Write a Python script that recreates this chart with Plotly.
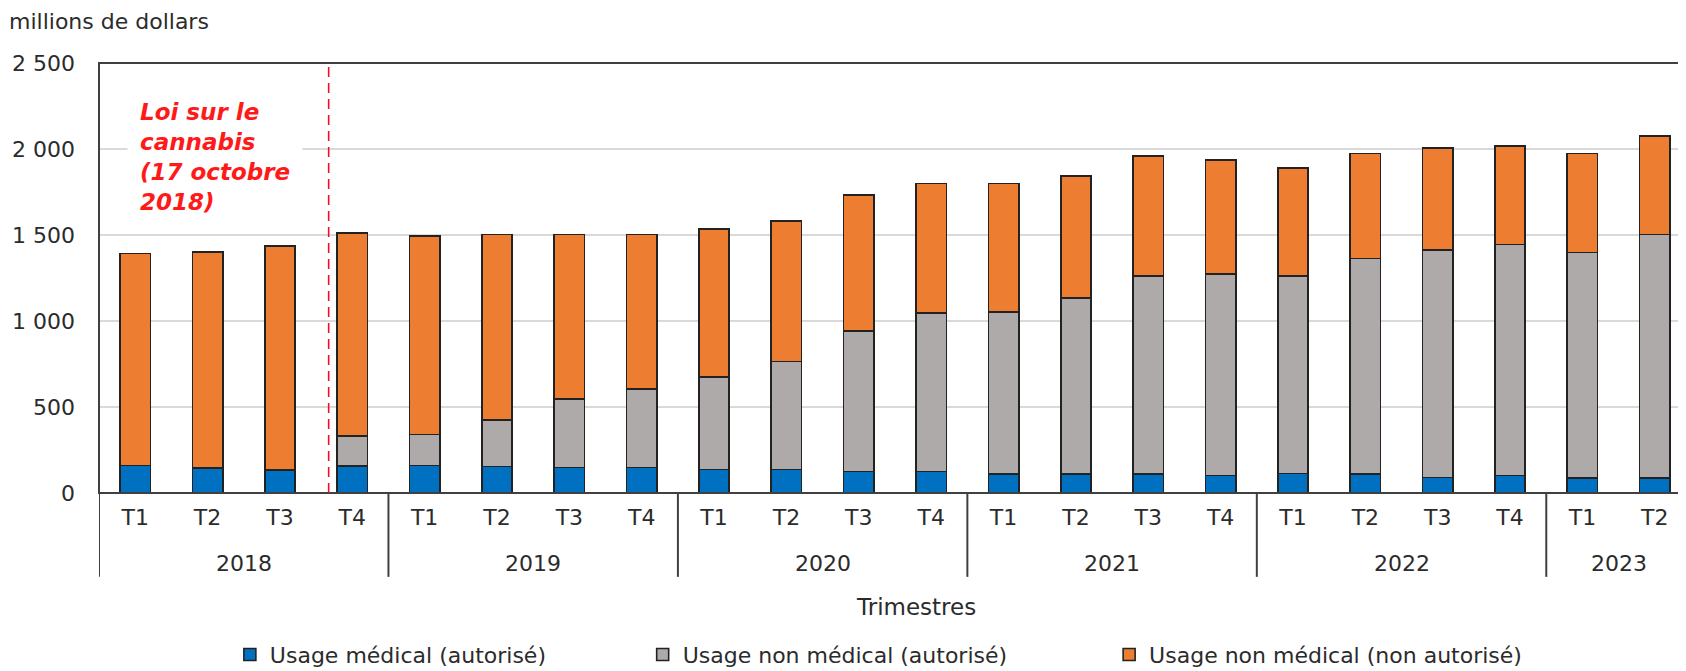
import plotly.graph_objects as go
import pandas as pd

# ---------------- data ----------------
YEARS = ["2018", "2018", "2018", "2018",
         "2019", "2019", "2019", "2019",
         "2020", "2020", "2020", "2020",
         "2021", "2021", "2021", "2021",
         "2022", "2022", "2022", "2022",
         "2023", "2023"]
QUARTERS = ["T1", "T2", "T3", "T4",
            "T1", "T2", "T3", "T4",
            "T1", "T2", "T3", "T4",
            "T1", "T2", "T3", "T4",
            "T1", "T2", "T3", "T4",
            "T1", "T2"]

usage_medical = [159, 145, 134, 157,
                 159, 155, 149, 149,
                 136, 136, 124, 125,
                 111, 111, 111, 101,
                 113, 109, 90, 101,
                 86, 86]
usage_non_medical_autorise = [0, 0, 0, 176,
                              182, 268, 398, 456,
                              539, 629, 819, 920,
                              943, 1024, 1152, 1171,
                              1148, 1255, 1322, 1344,
                              1313, 1416]
usage_non_medical_non_autorise = [1234, 1257, 1303, 1179,
                                  1153, 1079, 955, 897,
                                  860, 816, 788, 754,
                                  745, 708, 698, 665,
                                  629, 609, 593, 574,
                                  574, 574]

SERIES_NAMES = ["Usage médical (autorisé)",
                "Usage non médical (autorisé)",
                "Usage non médical (non autorisé)"]

Y_TICKS = [0, 500, 1000, 1500, 2000, 2500]
Y_TITLE = "millions de dollars"
X_TITLE = "Trimestres"
LAW_DATE = "2018-10-17"
LAW_TEXT = "Loi sur le<br>cannabis<br>(17 octobre<br>2018)"

# ---------------- style ----------------
FONT = "DejaVu Sans"
TXT = "#2b2b2b"
BLUE = "#0070C0"
GRAY = "#AEAAAA"
ORANGE = "#ED7D31"
OUTLINE = "#222222"
FRAME = "#404040"
FS = 22

pos = list(range(len(QUARTERS)))

# position of the law date (fraction through its quarter)
law = pd.Timestamp(LAW_DATE)
q_start = law.to_period("Q").start_time
q_end = law.to_period("Q").end_time
frac = (law - q_start) / (q_end - q_start)
law_idx = [i for i in pos if YEARS[i] == str(law.year) and QUARTERS[i] == f"T{law.quarter}"][0]
law_x = law_idx - 0.5 + frac

fig = go.Figure()
colors = [BLUE, GRAY, ORANGE]
values = [usage_medical, usage_non_medical_autorise, usage_non_medical_non_autorise]
legends = ["legend", "legend2", "legend3"]
for name, vals, col, lg in zip(SERIES_NAMES, values, colors, legends):
    fig.add_trace(go.Bar(
        x=pos, y=vals, name=name, legend=lg,
        marker=dict(color=col, line=dict(color=OUTLINE, width=1.6)),
    ))

# year groups
year_order = []
for y in YEARS:
    if y not in year_order:
        year_order.append(y)
annotations = []
shapes = []
boundaries = [-0.5]
for y in year_order:
    idx = [i for i in pos if YEARS[i] == y]
    annotations.append(dict(
        x=sum(idx) / len(idx), y=-0.165, xref="x", yref="paper",
        text=y, showarrow=False, xanchor="center", yanchor="middle",
        font=dict(family=FONT, size=FS, color=TXT)))
    boundaries.append(max(idx) + 0.5)
for b in boundaries:
    shapes.append(dict(type="line", xref="x", yref="paper", x0=b, x1=b,
                       y0=0, y1=-0.195, line=dict(color=FRAME, width=2)))

# frame
shapes.append(dict(type="rect", xref="paper", yref="paper", x0=0, x1=1, y0=0, y1=1,
                   line=dict(color=FRAME, width=2), layer="above"))
# law line
shapes.append(dict(type="line", xref="x", yref="paper", x0=law_x, x1=law_x, y0=0, y1=1,
                   line=dict(color="#F01028", width=1.6, dash="10px,6px"), layer="above"))

annotations.append(dict(
    x=-0.12, y=0.782, xref="x", yref="paper", text=f"<b><i>{LAW_TEXT}</i></b>",
    showarrow=False, xanchor="left", yanchor="middle", align="left",
    bgcolor="white", borderpad=12,
    font=dict(family=FONT, size=23, color="#FF1A1A")))
annotations.append(dict(
    x=-0.0575, y=1.096, xref="paper", yref="paper", text=Y_TITLE,
    showarrow=False, xanchor="left", yanchor="middle",
    font=dict(family=FONT, size=FS, color=TXT)))
annotations.append(dict(
    x=0.5135, y=-0.266, xref="paper", yref="paper", text=X_TITLE,
    showarrow=False, xanchor="center", yanchor="middle",
    font=dict(family=FONT, size=23, color=TXT)))

leg_common = dict(orientation="h", yanchor="middle", y=-0.376, xanchor="left",
                  font=dict(family=FONT, size=FS, color=TXT),
                  bgcolor="rgba(0,0,0,0)", borderwidth=0)

fig.update_layout(
    width=1686, height=671,
    margin=dict(l=91, r=3, t=55, b=180),
    paper_bgcolor="white", plot_bgcolor="white",
    barmode="stack", bargap=0.58,
    separators=", ",
    font=dict(family=FONT, size=FS, color=TXT),
    xaxis=dict(tickmode="array", tickvals=pos, ticktext=QUARTERS,
               range=[-0.5, len(pos) - 0.5], showgrid=False, zeroline=False,
               showline=False, ticks="", ticklabelstandoff=9,
               tickfont=dict(family=FONT, size=FS, color=TXT)),
    yaxis=dict(range=[0, 2500], tickmode="array", tickvals=Y_TICKS, tickformat=",d",
               showgrid=True, gridcolor="#D9D9D9", gridwidth=1.5,
               zeroline=False, showline=False, ticks="", ticklabelstandoff=23,
               tickfont=dict(family=FONT, size=FS, color=TXT)),
    legend=dict(x=0.0822, **leg_common),
    legend2=dict(x=0.3415, **leg_common),
    legend3=dict(x=0.6345, **leg_common),
    annotations=annotations,
    shapes=shapes,
    showlegend=True,
)

fig.write_html("out.html")
